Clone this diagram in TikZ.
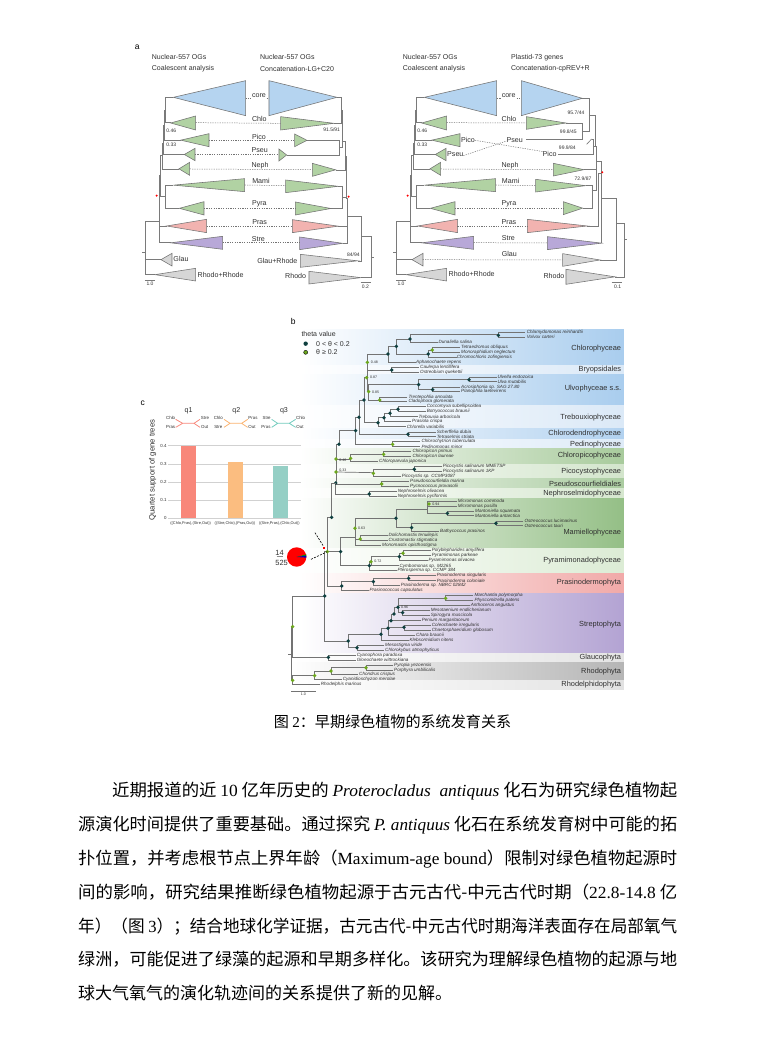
\documentclass[tikz,border=0pt]{standalone}
\usepackage{fontspec}
\usepackage{graphicx}
\setmainfont{Liberation Sans}
\newfontfamily\cjk{Noto Sans CJK SC}
\newfontfamily\ser{Liberation Serif}
\definecolor{tblue}{HTML}{B5D4F0}
\definecolor{tgreen}{HTML}{B1D2A3}
\definecolor{tred}{HTML}{F2B3B0}
\definecolor{tpurp}{HTML}{B8A8D8}
\definecolor{tgray}{HTML}{D6D6D6}
\definecolor{dkn}{HTML}{0E3F3F}
\definecolor{grn}{HTML}{6CA81C}
\definecolor{txt}{HTML}{303030}
\definecolor{qa}{HTML}{F8877A}
\definecolor{qb}{HTML}{FBB36F}
\definecolor{qc}{HTML}{72CCBE}
\definecolor{ba}{HTML}{F8877A}
\definecolor{bb}{HTML}{FBBD80}
\definecolor{bc}{HTML}{95CFC5}
\tikzset{
  tri/.style={draw=black!55,line width=0.55pt,line join=miter},
  br/.style={draw=black!55,line width=0.7pt},
  atree/.style={draw=black!52,line width=0.65pt},
  dsh/.style={draw=black!55,line width=0.5pt,dash pattern=on 1.2pt off 1.2pt},
  alab/.style={font=\fontsize{7.1}{8}\selectfont,text=txt,inner sep=0pt},
  asm/.style={font=\fontsize{5}{5}\selectfont,text=txt,inner sep=0pt},
  head/.style={font=\fontsize{7}{8}\selectfont,text=txt,inner sep=0pt,anchor=west},
  taxon/.style={font=\fontsize{4.6}{5}\selectfont\itshape,text=txt,inner sep=0pt,anchor=west},
  clade/.style={font=\fontsize{7.4}{8}\selectfont,text=txt,inner sep=0pt,anchor=east},
  qlab/.style={font=\fontsize{4.4}{5}\selectfont,text=txt,inner sep=0pt},
  bsup/.style={font=\fontsize{3.6}{4}\selectfont,text=txt,inner sep=0pt},
  xlab/.style={font=\fontsize{3.9}{4}\selectfont,text=txt,inner sep=0pt},
  plab/.style={font=\fontsize{8.5}{9}\selectfont,text=black,inner sep=0pt},
  bline/.style={anchor=base west,inner sep=0pt,font=\fontsize{17}{20}\selectfont},
}
\newcount\namec
\newcommand\tx[3]{\global\advance\namec by 1 \node[taxon] (tx\the\namec) at (#1,#2) {#3};}
\newcommand\cl[2]{\global\advance\namec by 1 \node[clade] (cl\the\namec) at (1024,#1) {#2};}
\newcommand\fk[5]{\draw[br] (#3,#2) -- (#1,#2) -- (#1,#4) -- (#5,#4);}
\newcommand\afk[5]{\draw[atree] (#3,#2) -- (#1,#2) -- (#1,#4) -- (#5,#4);}
\newcommand\dk[2]{\fill[dkn] (#1,#2) circle[radius=1.9pt];}
\newcommand\gn[2]{\fill[grn] (#1,#2) circle[radius=1.9pt];}
\newcommand\bnd[4]{\definecolor{bndc}{HTML}{#4}\shade[left color=white,right color=bndc] (#1,#2) rectangle (1032,#3);}
\newcommand\trg[5]{\draw[tri,fill=#5] (#1,{(#3+#4)/2}) -- (#2,#3) -- (#2,#4) -- cycle;}
\newcommand\ltree{%
  \afk{105}{187}{130}{263}{122}
  \afk{103}{225}{105}{315}{152}
  \afk{101}{270}{103}{358}{163}
  \afk{96}{325}{101}{402}{147}
  \afk{107}{450}{130}{520}{148}
  \afk{92}{360}{96}{485}{107}
  \afk{89}{420}{92}{573}{110}
  \afk{87}{490}{89}{623}{122}
  \afk{45}{558}{87}{719}{75}
  \draw[atree] (45,674) -- (93,674);
  \draw[atree] (37,652) -- (45,652);
  \draw[tri,fill=tblue] (130,187) -- (347,137) -- (347,242) -- cycle;
  \trg{122}{197}{243}{285}{tgreen}
  \trg{152}{237}{296}{335}{tgreen}
  \trg{163}{195}{340}{377}{tgreen}
  \trg{147}{179}{382}{421}{tgreen}
  \trg{130}{344}{431}{470}{tgreen}
  \trg{148}{222}{500}{540}{tgreen}
  \trg{110}{230}{553}{593}{tred}
  \trg{122}{278}{604}{643}{tpurp}
  \trg{93}{126}{655}{693}{tgray}
  \trg{75}{197}{700}{738}{tgray}
  \draw[atree] (45,735) -- (75,735);
  \fill[red] (80,482) circle[radius=1.1pt];
}
\begin{document}
\begin{tikzpicture}[x=1pt,y=-1pt]
\useasboundingbox (0,0) rectangle (760,1042);
\fill[white] (0,0) rectangle (760,1042);

% ---------- panel a, left pair
\begin{scope}[shift={(130,35)},x=0.3333pt,y=-0.3333pt]
\ltree
\node[asm] (a1s) at (60,746) {1.0};
\node[asm] (a1i) at (124,287) {0.46};
\node[asm] (a1j) at (124,328) {0.33};
\afk{634}{187}{621}{264}{612}
\afk{627}{315}{531}{360}{470}
\afk{638}{225}{634}{338}{627}
\afk{645}{320}{638}{405}{617}
\afk{637}{454}{625}{520}{603}
\afk{648}{365}{645}{487}{637}
\afk{652}{490}{648}{573}{625}
\draw[atree] (652,573) -- (652,625) -- (638,625);
\afk{695}{545}{652}{678}{683}
\afk{723}{605}{695}{728}{693}
\draw[atree] (723,667) -- (733,667);
\draw[tri,fill=tblue] (621,187) -- (417,137) -- (417,242) -- cycle;
\trg{612}{452}{245}{285}{tgreen}
\trg{531}{494}{297}{335}{tgreen}
\trg{470}{447}{342}{378}{tgreen}
\trg{617}{547}{385}{424}{tgreen}
\trg{625}{467}{435}{473}{tgreen}
\trg{603}{496}{501}{540}{tgreen}
\trg{625}{487}{554}{593}{tred}
\trg{638}{509}{606}{644}{tpurp}
\trg{683}{511}{658}{697}{tgray}
\trg{693}{537}{709}{747}{tgray}
\draw[atree] (692,742) -- (722,742);
\fill[red] (656,485) circle[radius=1.1pt];
\draw[dsh] (347,190) -- (362,190) (410,190) -- (417,190);
\draw[dsh] (197,263) -- (452,265);
\draw[dsh] (237,315) -- (494,315);
\draw[dsh] (195,358) -- (447,358);
\draw[dsh] (179,402) -- (547,404);
\draw[dsh] (344,450) -- (467,452);
\draw[dsh] (222,520) -- (496,520);
\draw[dsh] (230,573) -- (487,573);
\draw[dsh] (278,623) -- (509,623);
\node[plab] (aa) at (22,37) {a};
\node[head] (a1a) at (65,67) {Nuclear-557 OGs};
\node[head] (a1b) at (65,102) {Coalescent analysis};
\node[head] (a1c) at (390,67) {Nuclear-557 OGs};
\node[head] (a1d) at (390,102) {Concatenation-LG+C20};
\node[alab] (a1e) at (387,182) {core};
\node[alab] (a1f) at (388,252) {Chlo};
\node[alab] (a1g) at (387,305) {Pico};
\node[alab] (a1h) at (389,346) {Pseu};
\node[alab] (a1k) at (390,393) {Neph};
\node[alab] (a1l) at (393,439) {Mami};
\node[alab] (a1m) at (388,505) {Pyra};
\node[alab] (a1n) at (389,562) {Pras};
\node[alab] (a1o) at (385,611) {Stre};
\node[alab] (a1p) at (153,673) {Glau};
\node[alab] (a1q) at (272,719) {Rhodo+Rhode};
\node[alab] (a1r) at (442,677) {Glau+Rhode};
\node[alab] (a1t) at (497,724) {Rhodo};
\node[asm] (a1u) at (605,285) {91.5/91};
\node[asm] (a1v) at (670,658) {84/94};
\node[asm] (a1w) at (706,755) {0.2};
\end{scope}

% ---------- panel a, right pair
\begin{scope}[shift={(381,35)},x=0.3333pt,y=-0.3333pt]
\ltree
\node[asm] (a2s) at (60,746) {1.0};
\node[asm] (a2i) at (124,287) {0.46};
\node[asm] (a2j) at (124,328) {0.33};
\end{scope}
\begin{scope}[shift={(380,35)},x=0.3333pt,y=-0.3333pt]
\afk{627}{190}{607}{290}{606}
\afk{606}{264}{558}{314}{437}
\afk{640}{312}{635}{357}{533}
\draw[atree] (620,328) -- (635,312);
\draw[atree] (627,240) -- (647,240) -- (647,335);
\draw[atree] (640,335) -- (650,335) -- (650,404) -- (612,404);
\afk{636}{452}{617}{519}{608}
\draw[atree] (636,465) -- (650,465) -- (650,380) -- (665,380);
\draw[atree] (665,380) -- (665,624);
\draw[atree] (622,573) -- (655,573) -- (655,415) -- (665,415);
\draw[atree] (665,490) -- (710,490) -- (710,675) -- (660,675);
\afk{733}{565}{710}{726}{705}
\draw[atree] (733,612) -- (740,612);
\draw[tri,fill=tblue] (607,190) -- (424,137) -- (424,242) -- cycle;
\trg{558}{439}{245}{283}{tgreen}
\trg{612}{520}{385}{423}{tgreen}
\trg{617}{467}{433}{471}{tgreen}
\trg{608}{550}{500}{539}{tgreen}
\trg{622}{442}{553}{593}{tred}
\trg{665}{502}{605}{644}{tpurp}
\trg{660}{548}{656}{694}{tgray}
\trg{705}{558}{703}{748}{tgray}
\draw[atree] (695,742) -- (727,742);
\fill[red] (667,412) circle[radius=1.1pt];
\draw[dsh] (351,190) -- (362,190) (410,190) -- (424,190);
\draw[dsh] (200,263) -- (439,264);
\draw[dsh] (285,316) -- (490,350);
\draw[dsh] (250,362) -- (380,318);
\draw[dsh] (182,402) -- (520,404);
\draw[dsh] (347,450) -- (467,452);
\draw[dsh] (225,520) -- (550,520);
\draw[dsh] (232,573) -- (442,573);
\draw[dsh] (281,623) -- (502,624);
\draw[dsh] (128,674) -- (548,675);
\node[head] (a2a) at (68,67) {Nuclear-557 OGs};
\node[head] (a2b) at (68,102) {Coalescent analysis};
\node[head] (a2c) at (393,67) {Plastid-73 genes};
\node[head] (a2d) at (393,102) {Concatenation-cpREV+R};
\node[alab] (a2e) at (386,181) {core};
\node[alab] (a2f) at (387,253) {Chlo};
\node[alab] (a2g) at (264,316) {Pico};
\node[alab] (a2h) at (226,358) {Pseu};
\node[alab] (a2k) at (404,315) {Pseu};
\node[alab] (a2l) at (509,357) {Pico};
\node[alab] (a2m) at (390,391) {Neph};
\node[alab] (a2n) at (392,439) {Mami};
\node[alab] (a2o) at (387,505) {Pyra};
\node[alab] (a2p) at (387,561) {Pras};
\node[alab] (a2q) at (385,610) {Stre};
\node[alab] (a2r) at (388,657) {Glau};
\node[alab] (a2t) at (275,718) {Rhodo+Rhode};
\node[alab] (a2u) at (522,724) {Rhodo};
\node[asm] (a2v) at (588,233) {95.7/44};
\node[asm] (a2w) at (565,291) {99.8/45};
\node[asm] (a2x) at (562,338) {99.9/84};
\node[asm] (a2y) at (609,430) {72.9/87};
\node[asm] (a2z) at (713,754) {0.1};
\end{scope}

% ---------- panel b, upper
\begin{scope}[shift={(280,310)},x=0.3333pt,y=-0.3333pt]
\bnd{60}{58}{165}{A9CDEE}
\bnd{60}{165}{195}{DBE9F7}
\bnd{60}{195}{288}{A9CDEE}
\bnd{60}{288}{357}{DBE9F7}
\bnd{60}{357}{388}{B2D2F0}
\bnd{60}{388}{416}{DEEBF8}
\bnd{60}{416}{463}{A8CB9C}
\bnd{60}{463}{507}{D3E5CC}
\bnd{60}{507}{537}{AACCA0}
\bnd{60}{537}{567}{D6E7CF}
\bnd{60}{567}{717}{94BF86}
\bnd{60}{717}{790}{DCECD5}
\bnd{60}{790}{850}{F1A9A8}
\bnd{60}{850}{1030}{B3A3D3}
\bnd{30}{1030}{1057}{E4E4E4}
\bnd{30}{1057}{1113}{B5B5B5}
\bnd{30}{1113}{1138}{E2E2E2}
\fk{655}{68}{735}{82}{735}
\fk{390}{74}{655}{97}{475}
\fk{349}{87}{390}{132}{445}
\fk{445}{120}{457}{142}{530}
\fk{457}{112}{540}{127}{540}
\fk{324}{109}{349}{157}{408}
\fk{262}{132}{324}{180}{335}
\fk{335}{172}{417}{186}{417}
\fk{262}{157}{262}{245}{266}
\fk{266}{224}{416}{270}{299}
\fk{416}{209}{567}{239}{458}
\fk{567}{201}{650}{215}{650}
\fk{458}{231}{540}{245}{540}
\fk{299}{261}{382}{275}{382}
\fk{252}{203}{262}{338}{294}
\fk{294}{323}{312}{350}{378}
\fk{312}{310}{330}{335}{394}
\fk{330}{298}{354}{320}{413}
\fk{354}{290}{437}{305}{437}
\fk{237}{270}{252}{373}{384}
\fk{384}{366}{467}{380}{467}
\fk{227}{322}{237}{403}{338}
\fk{338}{395}{421}{410}{421}
\fk{177}{362}{227}{403}{168}
\draw[br] (168,403) -- (168,519);
\draw[br] (168,447) -- (212,447);
\fk{212}{433}{311}{455}{295}
\fk{311}{425}{394}{440}{394}
\draw[br] (168,486) -- (280,488);
\fk{280}{478}{403}{498}{363}
\fk{403}{470}{485}{485}{485}
\fk{167}{522}{305}{552}{268}
\fk{305}{514}{387}{528}{387}
\fk{268}{545}{350}{558}{350}
\dk{655}{76}\dk{390}{87}\dk{349}{109}\dk{445}{132}\gn{457}{120}\dk{324}{132}
\gn{262}{157}\dk{335}{180}\gn{260}{203}\gn{266}{245}\dk{416}{224}\dk{567}{209}\dk{458}{239}
\gn{299}{270}\dk{252}{270}\dk{294}{338}\dk{312}{323}\dk{330}{310}\dk{354}{298}
\dk{237}{322}\dk{384}{373}\dk{227}{362}\gn{338}{403}\dk{177}{403}
\gn{168}{447}\gn{212}{445}\gn{311}{433}\gn{168}{486}\gn{280}{490}\dk{403}{478}
\dk{167}{519}\gn{305}{522}\dk{268}{552}
\tx{740}{68}{Chlamydomonas reinhardtii}
\tx{740}{82}{Volvox carteri}
\tx{475}{97}{Dunaliella salina}
\tx{543}{112}{Tetraedromus obliquus}
\tx{543}{127}{Monoraphidium neglectum}
\tx{530}{142}{Chromochloris zofingiensis}
\tx{408}{157}{Aphanochaete repens}
\tx{420}{172}{Caulerpa lentillifera}
\tx{420}{186}{Ostreobium quekettii}
\tx{652}{201}{Ulvella endozoica}
\tx{652}{215}{Ulva mutabilis}
\tx{543}{231}{Acrosiphonia sp. SAG 27.80}
\tx{543}{245}{Planophila laetevirens}
\tx{385}{261}{Trentepohlia annulata}
\tx{385}{275}{Cladophora glomerata}
\tx{440}{290}{Coccomyxa subellipsoidea}
\tx{440}{305}{Botryococcus braunii}
\tx{415}{320}{Trebouxia arboricola}
\tx{396}{335}{Prasiola crispa}
\tx{380}{350}{Chlorella variabilis}
\tx{470}{366}{Scherffelia dubia}
\tx{470}{380}{Tetraselmis striata}
\tx{424}{395}{Chlorochytrion tuberculata}
\tx{424}{410}{Pedinomonas minor}
\tx{397}{425}{Chloropicon primus}
\tx{397}{440}{Chloropicon laureae}
\tx{297}{455}{Chloroparvula japonica}
\tx{488}{470}{Picocystis salinarum MMETSP}
\tx{488}{485}{Picocystis salinarum 1KP}
\tx{365}{498}{Picocystis sp. CCMP3087}
\tx{390}{514}{Pseudoscourfieldia marina}
\tx{390}{528}{Pycnococcus provasolii}
\tx{353}{545}{Nephroselmis olivacea}
\tx{353}{558}{Nephroselmis pyriformis}
\node[bsup] (b1) at (283,157) {0.48};
\node[bsup] (b2) at (281,203) {0.87};
\node[bsup] (b3) at (287,247) {0.85};
\node[bsup] (b4) at (189,452) {0.46};
\node[bsup] (b5) at (189,482) {0.33};
\cl{117}{Chlorophyceae}
\cl{180}{Bryopsidales}
\cl{237}{Ulvophyceae s.s.}
\cl{323}{Trebouxiophyceae}
\cl{372}{Chlorodendrophyceae}
\cl{403}{Pedinophyceae}
\cl{438}{Chloropicophyceae}
\cl{484}{Picocystophyceae}
\cl{523}{Pseudoscourfieldiales}
\cl{552}{Nephroselmidophyceae}
\node[plab] (pb) at (40,33) {b};
\node[head] (lg0) at (64,73) {theta value};
\fill[dkn] (77,101) circle[radius=2.2pt];
\fill[grn] (77,127) circle[radius=2pt];
\draw[black,line width=0.4pt] (77,127) circle[radius=2pt];
\node[head] (lg1) at (108,101) {0 < θ < 0.2};
\node[head] (lg2) at (108,127) {θ ≥ 0.2};
\end{scope}

% ---------- panel b, lower
\begin{scope}[shift={(280,500)},x=0.3333pt,y=-0.3333pt]
\fk{155}{-51}{167}{52}{142}
\fk{142}{52}{155}{258}{185}
\draw[br] (134,155) -- (182,155);
\fk{182}{112}{225}{195}{268}
\fk{225}{55}{348}{136}{304}
\fk{348}{28}{443}{83}{395}
\fk{443}{3}{530}{40}{502}
\draw[br] (443,18) -- (530,18);
\fk{502}{33}{582}{47}{582}
\fk{395}{70}{648}{93}{478}
\fk{648}{63}{730}{77}{730}
\draw[br] (225,117) -- (241,117);
\fk{241}{106}{323}{121}{323}
\fk{268}{185}{273}{212}{350}
\fk{273}{170}{358}{197}{356}
\fk{358}{160}{369}{182}{443}
\fk{369}{152}{452}{167}{452}
\fk{134}{155}{142}{423}{205}
\draw[br] (38,288) -- (134,288);
\fk{185}{245}{280}{271}{266}
\fk{280}{235}{386}{257}{360}
\fk{386}{227}{467}{242}{467}
\fk{205}{403}{303}{443}{231}
\fk{231}{435}{313}{450}{313}
\fk{303}{385}{324}{420}{386}
\fk{324}{362}{333}{405}{406}
\draw[br] (324,382) -- (372,382);
\fk{372}{375}{453}{390}{453}
\fk{333}{342}{342}{360}{423}
\draw[br] (342,342) -- (342,322) -- (354,322);
\fk{354}{295}{497}{338}{368}
\draw[br] (354,315) -- (570,315);
\fk{497}{285}{580}{300}{580}
\fk{368}{331}{450}{345}{450}
\fk{38}{288}{134}{472}{145}
\draw[br] (25,462) -- (35,462);
\fk{35}{380}{38}{541}{38}
\fk{145}{465}{228}{480}{228}
\fk{38}{525}{104}{553}{120}
\fk{104}{513}{153}{539}{186}
\fk{153}{503}{258}{523}{235}
\fk{258}{495}{340}{510}{340}
\dk{155}{52}\gn{142}{155}\dk{182}{155}\gn{225}{85}\dk{348}{55}\gn{447}{12}\dk{502}{40}
\dk{395}{83}\dk{648}{70}\gn{241}{117}\dk{268}{197}\gn{273}{185}\dk{358}{170}\gn{369}{160}
\dk{134}{288}\dk{185}{258}\dk{280}{245}\dk{386}{235}
\dk{205}{423}\dk{231}{443}\dk{303}{403}\dk{324}{385}\dk{372}{382}\dk{333}{362}\dk{342}{342}
\dk{354}{322}\dk{368}{338}\gn{497}{295}
\gn{38}{380}\gn{38}{541}\dk{145}{472}\gn{104}{527}\gn{153}{513}\gn{258}{503}
\tx{533}{3}{Micromonas commoda}
\tx{533}{18}{Micromonas pusilla}
\tx{585}{33}{Mantoniella squamata}
\tx{585}{47}{Mantoniella antarctica}
\tx{733}{63}{Ostreococcus lucimarinus}
\tx{733}{77}{Ostreococcus tauri}
\tx{480}{93}{Bathycoccus prasinos}
\tx{325}{106}{Dolichomastix tenuilepis}
\tx{325}{121}{Crustomastix stigmatica}
\tx{306}{136}{Monomastix opisthostigma}
\tx{455}{152}{Polyblepharides amylifera}
\tx{455}{167}{Pyramimonas parkeae}
\tx{445}{182}{Pyramimonas olivacea}
\tx{358}{198}{Cymbomonas sp. M2265}
\tx{352}{212}{Pterosperma sp. CCMP 384}
\tx{470}{227}{Prasinoderma singularis}
\tx{470}{242}{Prasinoderma coloniale}
\tx{362}{257}{Prasinoderma sp. NBRC 02842}
\tx{268}{271}{Prasinococcus capsulatus}
\tx{583}{285}{Marchantia polymorpha}
\tx{583}{300}{Physcomitrella patens}
\tx{572}{315}{Anthoceros angustus}
\tx{452}{331}{Mesotaenium endlicherianum}
\tx{452}{345}{Spirogyra muscicola}
\tx{425}{360}{Penium margaritaceum}
\tx{455}{375}{Coleochaete irregularis}
\tx{455}{390}{Chaetosphaeridium globosum}
\tx{408}{405}{Chara braunii}
\tx{388}{420}{Klebsormidium nitens}
\tx{315}{435}{Mesostigma viride}
\tx{315}{450}{Chlorokybus atmophyticus}
\tx{230}{465}{Cyanophora paradoxa}
\tx{230}{480}{Gloeochaete wittrockiana}
\tx{342}{495}{Pyropia yezoensis}
\tx{342}{510}{Porphyra umbilicalis}
\tx{237}{523}{Chondrus crispus}
\tx{188}{539}{Cyanidioschyzon merolae}
\tx{122}{553}{Rhodelphis marinus}
\node[bsup] (b6) at (468,12) {0.94};
\node[bsup] (b7) at (245,85) {0.63};
\node[bsup] (b8) at (294,185) {0.72};
\node[bsup] (b9) at (374,322) {0.96};
\cl{97}{Mamiellophyceae}
\cl{183}{Pyramimonadophyceae}
\cl{249}{Prasinodermophyta}
\cl{373}{Streptophyta}
\cl{472}{Glaucophyta}
\cl{515}{Rhodophyta}
\cl{554}{Rhodelphidophyta}
\draw[br] (33,573) -- (107,573);
\node[bsup] (b10) at (70,584) {1.0};
\end{scope}

% ---------- panel c and the pie
\begin{scope}[shift={(130,390)},x=0.3333pt,y=-0.3333pt]
\node[plab] (cc) at (38,40) {c};
\node[alab] (q1) at (176,63) {q1};
\node[alab] (q2) at (319,63) {q2};
\node[alab] (q3) at (462,63) {q3};
\draw[qa,line width=0.8pt] (137,88) -- (158,100) -- (192,100) -- (210,88) (137,112) -- (158,100) (192,100) -- (210,112);
\draw[qb,line width=0.8pt] (282,88) -- (300,100) -- (335,100) -- (353,88) (282,112) -- (300,100) (335,100) -- (353,112);
\draw[qc,line width=0.8pt] (425,88) -- (443,100) -- (478,100) -- (497,88) (425,112) -- (443,100) (478,100) -- (497,112);
\foreach \nm/\xx/\yy/\lb in {c1/122/83/Chlo,c2/122/112/Pras,c3/225/83/Stre,c4/224/112/Out,c5/265/83/Chlo,c6/265/112/Stre,c7/369/83/Pras,c8/366/112/Out,c9/410/83/Stre,c10/408/112/Pras,c11/512/83/Chlo,c12/510/112/Out}
  \node[qlab] (\nm) at (\xx,\yy) {\lb};
\foreach \yy in {167,222,276,330,384}
  \draw[black!18,line width=0.6pt] (115,\yy) -- (513,\yy);
\fill[ba] (153,167) rectangle (197,384);
\fill[bb] (294,216) rectangle (338,384);
\fill[bc] (430,228) rectangle (474,384);
\foreach \nm/\yy/\lb in {y4/167/0.4,y3/222/0.3,y2/276/0.2,y1/330/0.1,y0/384/0}
  \node[qlab,anchor=east] (\nm) at (110,\yy) {\lb};
\node[xlab] (x1) at (182,400) {((Chlo,Pras),(Stre,Out))};
\node[xlab] (x2) at (315,400) {((Stre,Chlo),(Pras,Out))};
\node[xlab] (x3) at (448,400) {((Stre,Pras),(Chlo,Out))};
\node[alab,font=\fontsize{7.7}{8}\selectfont,rotate=90] (yl) at (68,240) {Quartet support of gene trees};
\fill[red] (500,501) circle[radius=9.7pt];
\fill[green!60!black] (500,501) -- (529,493) -- (529,497) -- cycle;
\fill[blue!75!black] (500,501) -- (529,497) -- (529,503) -- cycle;
\node[alab,font=\fontsize{7.5}{8}\selectfont] (p1) at (449,488) {14};
\draw[black!45,line width=0.4pt] (440,500) -- (458,500);
\node[alab,font=\fontsize{7.5}{8}\selectfont] (p2) at (455,520) {525};
\fill[red] (578,471) rectangle (584,477);
\draw[black,line width=0.6pt,dash pattern=on 2pt off 1.3pt] (543,508) -- (592,485);
\draw[black,line width=0.6pt,dash pattern=on 2pt off 1.3pt] (555,428) -- (580,468);
\end{scope}

% ---------- caption and body text
\node[inner sep=0pt,font=\fontsize{15.1}{16}\selectfont] (cap) at (392.5,722)
  {\cjk 图 {\ser 2}：早期绿色植物的系统发育关系};
\node[bline] (l1) at (112,796) {\resizebox{565pt}{\height}{\cjk 近期报道的近 {\ser 10} 亿年历史的 {\ser\itshape Proterocladus\ \ antiquus} 化石为研究绿色植物起}};
\node[bline] (l2) at (78,830) {\resizebox{599pt}{\height}{\cjk 源演化时间提供了重要基础。通过探究 {\ser\itshape P. antiquus} 化石在系统发育树中可能的拓}};
\node[bline] (l3) at (78,864) {\resizebox{599pt}{\height}{\cjk 扑位置，并考虑根节点上界年龄（{\ser Maximum-age bound}）限制对绿色植物起源时}};
\node[bline] (l4) at (78,898) {\resizebox{599pt}{\height}{\cjk 间的影响，研究结果推断绿色植物起源于古元古代-中元古代时期（{\ser 22.8-14.8} 亿}};
\node[bline] (l5) at (78,932) {\resizebox{599pt}{\height}{\cjk 年）（图 {\ser 3}）；结合地球化学证据，古元古代-中元古代时期海洋表面存在局部氧气}};
\node[bline] (l6) at (78,965) {\resizebox{599pt}{\height}{\cjk 绿洲，可能促进了绿藻的起源和早期多样化。该研究为理解绿色植物的起源与地}};
\node[bline] (l7) at (78,999) {\cjk 球大气氧气的演化轨迹间的关系提供了新的见解。};
\end{tikzpicture}
\end{document}
